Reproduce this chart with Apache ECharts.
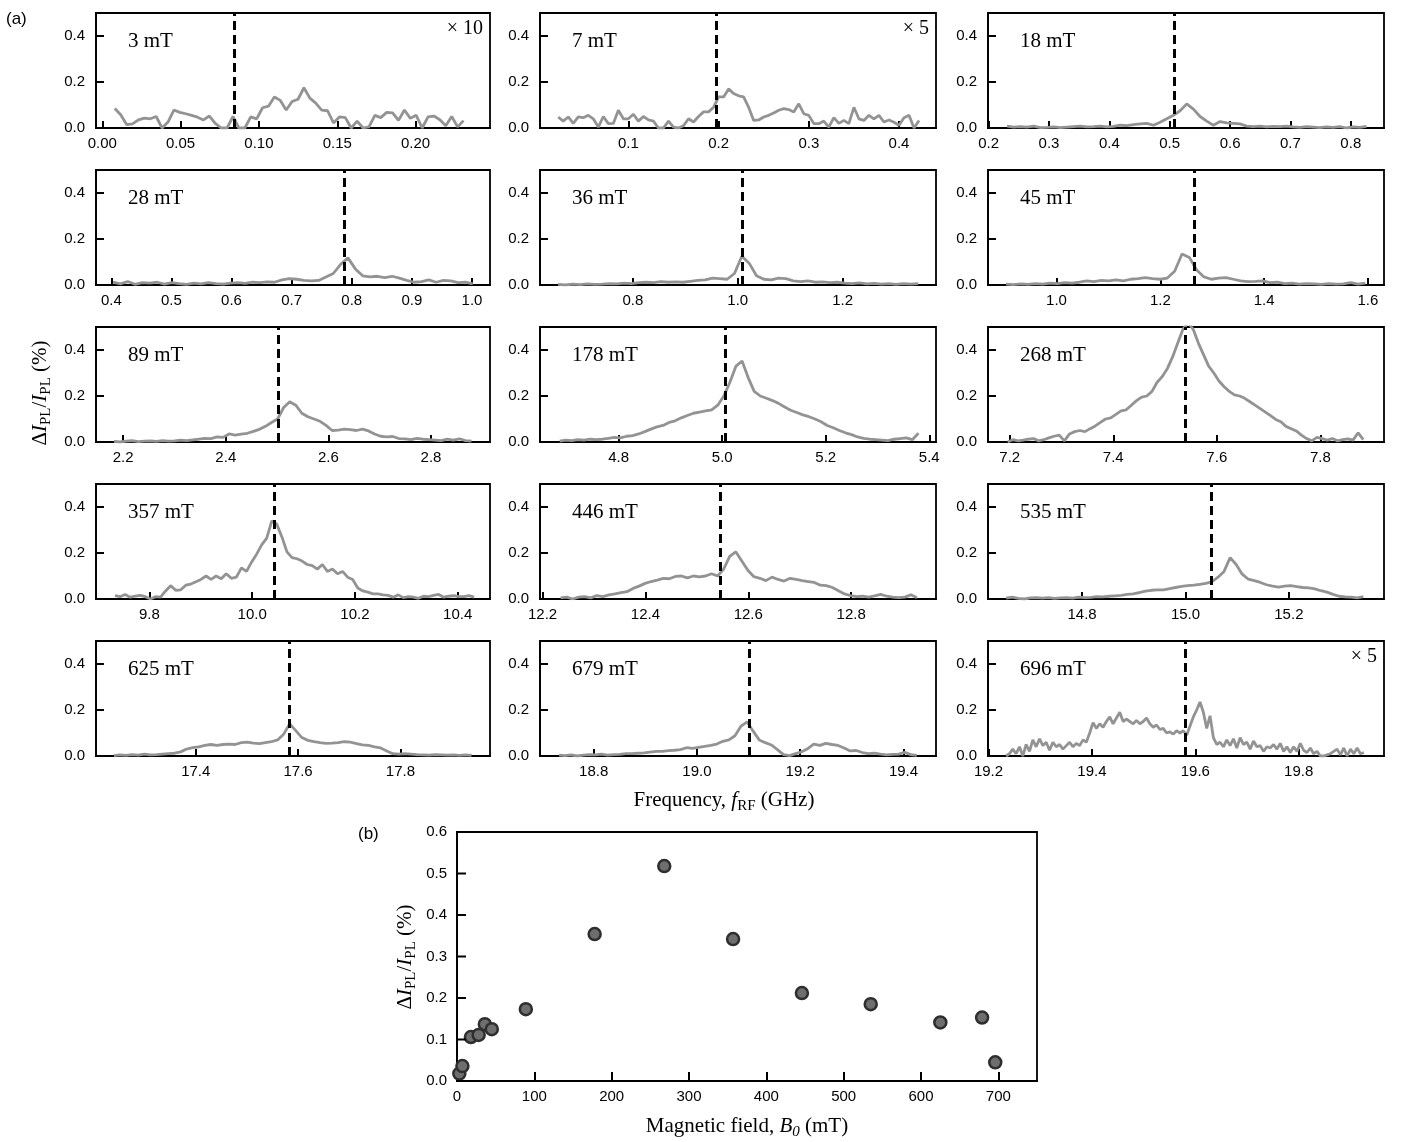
<!DOCTYPE html>
<html>
<head>
<meta charset="utf-8">
<title>PL change vs RF frequency</title>
<script src="https://cdn.jsdelivr.net/npm/echarts@6/dist/echarts.min.js"></script>
<style>
  html, body { margin: 0; padding: 0; background: #fff; }
  #main { width: 1418px; height: 1142px; }
</style>
</head>
<body>
<div id="main"></div>
<script>
// ---- panel (a): one frequency sweep per field ----
var fieldLabels = ['3 mT', '7 mT', '18 mT', '28 mT', '36 mT', '45 mT', '89 mT', '178 mT', '268 mT',
                   '357 mT', '446 mT', '535 mT', '625 mT', '679 mT', '696 mT'];
var scaleNotes = ['× 10', '× 5', '', '', '', '', '', '', '', '', '', '', '', '', '× 5'];

// sweep range of each trace (GHz)
var sweepStart = [0.008, 0.0222, 0.2305, 0.4028, 0.6575, 0.9027, 2.182, 4.686, 7.196,
                  9.733, 12.235, 14.653, 17.240, 18.733, 19.234];
var sweepEnd = [0.2306, 0.4222, 0.826, 1.0014, 1.344, 1.595, 2.879, 5.379, 7.883,
                10.432, 12.928, 15.344, 17.939, 19.426, 19.926];
// visible x range of each panel
var axisMin = [-0.004, 0.002, 0.199, 0.3745, 0.623, 0.868, 2.147, 4.648, 7.158,
               9.696, 12.195, 14.618, 17.205, 18.696, 19.199];
var axisMax = [0.2475, 0.441, 0.855, 1.030, 1.378, 1.631, 2.915, 5.413, 7.923,
               10.463, 12.965, 15.384, 17.975, 19.463, 19.965];
// dashed marker (expected resonance)
var resonance = [0.0844, 0.1974, 0.5075, 0.788, 1.009, 1.266, 2.503, 5.0065, 7.539,
                 10.043, 12.546, 15.049, 17.583, 19.101, 19.581];
var tickValues = [
  [0, 0.05, 0.10, 0.15, 0.20],
  [0.1, 0.2, 0.3, 0.4],
  [0.2, 0.3, 0.4, 0.5, 0.6, 0.7, 0.8],
  [0.4, 0.5, 0.6, 0.7, 0.8, 0.9, 1.0],
  [0.8, 1.0, 1.2],
  [1.0, 1.2, 1.4, 1.6],
  [2.2, 2.4, 2.6, 2.8],
  [4.8, 5.0, 5.2, 5.4],
  [7.2, 7.4, 7.6, 7.8],
  [9.8, 10.0, 10.2, 10.4],
  [12.2, 12.4, 12.6, 12.8],
  [14.8, 15.0, 15.2],
  [17.4, 17.6, 17.8],
  [18.8, 19.0, 19.2, 19.4],
  [19.2, 19.4, 19.6, 19.8]
];
var tickDecimals = [2, 1, 1, 1, 1, 1, 1, 1, 1, 1, 1, 1, 1, 1, 1];
var yTicks = [0, 0.2, 0.4];

var sig3mT = [0.085, 0.058, 0.015, 0.018, 0.035, 0.043, 0.04, 0.05, 0.0, 0.026,
  0.078, 0.068, 0.062, 0.055, 0.047, 0.035, 0.052, 0.02, 0.0, 0.0,
  0.05, 0.0, 0.0, 0.048, 0.04, 0.088, 0.095, 0.135, 0.12, 0.078,
  0.115, 0.125, 0.175, 0.13, 0.108, 0.078, 0.075, 0.022, 0.048, 0.045,
  0.0, 0.03, 0.0, 0.005, 0.055, 0.045, 0.068, 0.066, 0.033, 0.078,
  0.042, 0.055, 0.0, 0.048, 0.052, 0.036, 0.01, 0.05, 0.005, 0.032];
var sig7mT = [0.048, 0.03, 0.048, 0.02, 0.048, 0.045, 0.055, 0.04, 0.004, 0.05,
  0.019, 0.02, 0.077, 0.04, 0.04, 0.06, 0.03, 0.05, 0.035, 0.03,
  0.0, 0.0, 0.03, 0.004, 0.0, 0.01, 0.04, 0.026, 0.05, 0.07,
  0.07, 0.09, 0.135, 0.135, 0.17, 0.15, 0.14, 0.135, 0.09, 0.033,
  0.035, 0.048, 0.055, 0.065, 0.077, 0.084, 0.08, 0.07, 0.105, 0.062,
  0.055, 0.019, 0.019, 0.03, 0.004, 0.045, 0.02, 0.033, 0.019, 0.09,
  0.04, 0.033, 0.055, 0.04, 0.055, 0.026, 0.035, 0.025, 0.012, 0.045,
  0.055, 0.0, 0.033];
var sig18mT = [0.008, 0.004, 0.006, 0.004, 0.008, 0.002, 0.003, 0.005, 0.002, 0.004,
  0.006, 0.008, 0.005, 0.006, 0.008, 0.005, 0.007, 0.012, 0.01, 0.015,
  0.018, 0.02, 0.012, 0.025, 0.04, 0.055, 0.075, 0.105, 0.082, 0.05,
  0.03, 0.012, 0.028, 0.022, 0.02, 0.018, 0.008, 0.006, 0.008, 0.005,
  0.007, 0.006, 0.008, 0.005, 0.003, 0.006, 0.004, 0.002, 0.005, 0.003,
  0.006, 0.0, 0.005, 0.003, 0.007];
var sig28mT = [0.012, 0.005, 0.015, 0.003, 0.01, 0.008, 0.012, 0.004, 0.01, 0.006,
  0.003, 0.008, 0.005, 0.01, 0.006, 0.004, 0.008, 0.01, 0.007, 0.012,
  0.01, 0.014, 0.012, 0.022, 0.028, 0.025, 0.02, 0.018, 0.02, 0.035,
  0.05, 0.09, 0.118, 0.07, 0.04, 0.035, 0.038, 0.032, 0.038, 0.03,
  0.02, 0.012, 0.015, 0.022, 0.012, 0.02, 0.018, 0.01, 0.012, 0.005];
var sig36mT = [0.003, 0.0, 0.004, 0.002, 0.005, 0.003, 0.004, 0.006, 0.005, 0.008,
  0.006, 0.01, 0.012, 0.01, 0.015, 0.012, 0.014, 0.012, 0.016, 0.02,
  0.022, 0.03, 0.028, 0.025, 0.05, 0.125, 0.095, 0.04, 0.025, 0.022,
  0.03, 0.028, 0.018, 0.015, 0.018, 0.012, 0.014, 0.01, 0.012, 0.008,
  0.006, 0.009, 0.005, 0.007, 0.004, 0.006, 0.003, 0.006, 0.004, 0.006];
var sig45mT = [0.004, 0.002, 0.005, 0.003, 0.006, 0.004, 0.008, 0.006, 0.01, 0.008,
  0.012, 0.018, 0.015, 0.02, 0.018, 0.022, 0.018, 0.025, 0.028, 0.032,
  0.028, 0.025, 0.03, 0.06, 0.135, 0.12, 0.065, 0.035, 0.025, 0.03,
  0.032, 0.025, 0.018, 0.015, 0.016, 0.018, 0.01, 0.012, 0.006, 0.008,
  0.004, 0.006, 0.005, 0.003, 0.006, 0.004, 0.005, 0.01, 0.004, 0.008];
var sig89mT = [0.003, 0.0, 0.004, 0.006, 0.002, 0.004, 0.005, 0.003, 0.006, 0.004,
  0.005, 0.008, 0.006, 0.009, 0.012, 0.016, 0.015, 0.022, 0.02, 0.035,
  0.03, 0.034, 0.038, 0.046, 0.055, 0.068, 0.085, 0.1, 0.15, 0.175,
  0.16, 0.125, 0.11, 0.1, 0.09, 0.072, 0.05, 0.052, 0.056, 0.054,
  0.05, 0.056, 0.048, 0.035, 0.025, 0.022, 0.024, 0.015, 0.014, 0.01,
  0.016, 0.012, 0.01, 0.008, 0.006, 0.012, 0.008, 0.014, 0.006, 0.004];
var sig178mT = [0.004, 0.008, 0.006, 0.01, 0.008, 0.012, 0.01, 0.012, 0.016, 0.02,
  0.018, 0.025, 0.028, 0.035, 0.045, 0.056, 0.066, 0.072, 0.085, 0.092,
  0.105, 0.115, 0.125, 0.13, 0.135, 0.14, 0.16, 0.2, 0.26, 0.33,
  0.352, 0.28, 0.22, 0.2, 0.19, 0.18, 0.168, 0.152, 0.138, 0.128,
  0.118, 0.11, 0.1, 0.088, 0.072, 0.062, 0.05, 0.04, 0.032, 0.022,
  0.016, 0.012, 0.01, 0.008, 0.006, 0.012, 0.015, 0.018, 0.01, 0.038];
var sig268mT = [0.0, 0.01, 0.005, 0.008, 0.012, 0.015, 0.005, 0.01, 0.018, 0.025,
  0.03, 0.005, 0.035, 0.045, 0.05, 0.045, 0.058, 0.07, 0.085, 0.1,
  0.105, 0.12, 0.135, 0.14, 0.16, 0.18, 0.195, 0.2, 0.22, 0.26,
  0.285, 0.32, 0.37, 0.43, 0.49, 0.52, 0.49, 0.43, 0.38, 0.33,
  0.3, 0.265, 0.24, 0.22, 0.205, 0.2, 0.19, 0.175, 0.16, 0.145,
  0.13, 0.115, 0.098, 0.088, 0.068, 0.058, 0.048, 0.03, 0.015, 0.005,
  0.02, 0.015, 0.008, 0.015, 0.005, 0.01, 0.014, 0.008, 0.04, 0.01];
var sig357mT = [0.015, 0.01, 0.02, 0.008, 0.012, 0.016, 0.01, 0.0, 0.01, 0.008,
  0.035, 0.058, 0.038, 0.04, 0.06, 0.065, 0.075, 0.085, 0.1, 0.085,
  0.1, 0.088, 0.11, 0.09, 0.095, 0.135, 0.12, 0.16, 0.195, 0.235,
  0.265, 0.34, 0.325, 0.27, 0.205, 0.18, 0.175, 0.165, 0.15, 0.145,
  0.13, 0.15, 0.12, 0.13, 0.11, 0.12, 0.095, 0.085, 0.048, 0.035,
  0.03, 0.022, 0.022, 0.018, 0.016, 0.008, 0.018, 0.006, 0.01, 0.008,
  0.003, 0.012, 0.01, 0.016, 0.02, 0.008, 0.012, 0.015, 0.01, 0.01,
  0.015, 0.008];
var sig446mT = [0.005, 0.008, 0.0, 0.008, 0.01, 0.005, 0.015, 0.01, 0.018, 0.022,
  0.028, 0.032, 0.046, 0.056, 0.068, 0.076, 0.082, 0.09, 0.088, 0.098,
  0.1, 0.092, 0.1, 0.096, 0.1, 0.11, 0.1, 0.13, 0.185, 0.205,
  0.165, 0.125, 0.097, 0.09, 0.08, 0.095, 0.085, 0.078, 0.09, 0.085,
  0.08, 0.076, 0.072, 0.06, 0.058, 0.05, 0.036, 0.022, 0.015, 0.01,
  0.012, 0.008, 0.014, 0.02, 0.012, 0.008, 0.006, 0.008, 0.018, 0.005];
var sig535mT = [0.004, 0.008, 0.003, 0.0, 0.005, 0.006, 0.004, 0.006, 0.003, 0.005,
  0.006, 0.004, 0.008, 0.006, 0.007, 0.01, 0.009, 0.012, 0.014, 0.016,
  0.02, 0.022, 0.028, 0.034, 0.038, 0.04, 0.04, 0.045, 0.05, 0.055,
  0.058, 0.06, 0.064, 0.068, 0.075, 0.095, 0.12, 0.18, 0.15, 0.108,
  0.086, 0.08, 0.072, 0.062, 0.056, 0.052, 0.056, 0.058, 0.054, 0.05,
  0.048, 0.044, 0.036, 0.03, 0.02, 0.012, 0.009, 0.008, 0.005, 0.01];
var sig625mT = [0.002, 0.005, 0.003, 0.006, 0.004, 0.008, 0.005, 0.006, 0.008, 0.01,
  0.012, 0.018, 0.03, 0.036, 0.04, 0.046, 0.05, 0.046, 0.05, 0.052,
  0.05, 0.058, 0.06, 0.056, 0.054, 0.058, 0.062, 0.07, 0.095, 0.14,
  0.11, 0.08, 0.068, 0.062, 0.058, 0.055, 0.056, 0.058, 0.062, 0.06,
  0.054, 0.048, 0.046, 0.04, 0.035, 0.022, 0.01, 0.008, 0.01, 0.008,
  0.006, 0.005, 0.004, 0.006, 0.005, 0.004, 0.005, 0.003, 0.005, 0.003];
var sig679mT = [0.004, 0.002, 0.005, 0.0, 0.004, 0.006, 0.005, 0.008, 0.004, 0.006,
  0.007, 0.01, 0.01, 0.012, 0.014, 0.017, 0.02, 0.02, 0.023, 0.025,
  0.028, 0.036, 0.033, 0.038, 0.042, 0.046, 0.052, 0.064, 0.07, 0.088,
  0.13, 0.148, 0.108, 0.07, 0.058, 0.048, 0.028, 0.006, 0.002, 0.01,
  0.018, 0.032, 0.052, 0.046, 0.055, 0.05, 0.046, 0.035, 0.022, 0.024,
  0.015, 0.01, 0.012, 0.008, 0.005, 0.007, 0.008, 0.016, 0.006, 0.003];
var sig696mT = [0.0, 0.01, 0.03, 0.01, 0.04, 0.0, 0.05, 0.02, 0.07, 0.04,
  0.075, 0.045, 0.06, 0.025, 0.06, 0.04, 0.05, 0.03, 0.045, 0.06,
  0.04, 0.055, 0.045, 0.07, 0.06, 0.1, 0.145, 0.12, 0.14, 0.125,
  0.15, 0.17, 0.14, 0.165, 0.19, 0.15, 0.16, 0.15, 0.14, 0.155,
  0.14, 0.15, 0.165, 0.14, 0.125, 0.135, 0.115, 0.12, 0.1, 0.105,
  0.095, 0.11, 0.1, 0.11, 0.09, 0.13, 0.17, 0.2, 0.235, 0.19,
  0.12, 0.175, 0.08, 0.05, 0.06, 0.04, 0.07, 0.045, 0.075, 0.035,
  0.08, 0.05, 0.06, 0.03, 0.065, 0.04, 0.045, 0.02, 0.04, 0.035,
  0.05, 0.03, 0.055, 0.02, 0.04, 0.015, 0.04, 0.02, 0.055, 0.025,
  0.015, 0.035, 0.01, 0.02, 0.0, 0.0, 0.005, 0.01, 0.02, 0.03,
  0.005, 0.035, 0.0, 0.03, 0.01, 0.035, 0.01, 0.015];

var traces = [sig3mT, sig7mT, sig18mT, sig28mT, sig36mT, sig45mT, sig89mT, sig178mT, sig268mT,
              sig357mT, sig446mT, sig535mT, sig625mT, sig679mT, sig696mT];

// ---- panel (b): peak amplitude vs field ----
var fieldB = [3, 7, 18, 28, 36, 45, 89, 178, 268, 357, 446, 535, 625, 679, 696];
var peakAmp = [0.018, 0.036, 0.106, 0.111, 0.137, 0.125, 0.173, 0.354, 0.518, 0.342,
               0.212, 0.185, 0.141, 0.153, 0.045];
var fieldTicks = [0, 100, 200, 300, 400, 500, 600, 700];
var ampTicks = [0, 0.1, 0.2, 0.3, 0.4, 0.5, 0.6];

// layout of the 5x3 small panels
var colLeft = [96, 540, 988];
var colWidth = [394, 396, 396];
var rowTop = [13, 170, 327, 484, 641];
var rowHeight = 115;

var SANS = 'Liberation Sans, Arial, sans-serif';
var SERIF = 'Liberation Serif, Times New Roman, serif';
var TRACE_COLOR = '#939393';

function fmt(dec) {
  return function(v) { return Number(v).toFixed(dec); };
}

var labelRich = {
  n: { fontFamily: SERIF, fontSize: 21, lineHeight: 28, fill: '#000', color: '#000' },
  i: { fontFamily: SERIF, fontSize: 21, lineHeight: 28, fontStyle: 'italic', fill: '#000', color: '#000' },
  s: { fontFamily: SERIF, fontSize: 15, lineHeight: 15, verticalAlign: 'bottom', fill: '#000', color: '#000' },
  si: { fontFamily: SERIF, fontSize: 15, lineHeight: 15, fontStyle: 'italic', verticalAlign: 'bottom', fill: '#000', color: '#000' }
};

function textEl(x, y, str, opts) {
  opts = opts || {};
  return {
    type: 'text', x: x, y: y, rotation: opts.rotation || 0, silent: true,
    style: {
      text: str,
      rich: opts.rich,
      fill: '#000',
      fontFamily: opts.family || SERIF,
      fontSize: opts.size || 21,
      align: opts.align || 'left', textAlign: opts.align || 'left',
      verticalAlign: 'middle', textVerticalAlign: 'middle'
    }
  };
}

function frameLine() {
  return { show: true, onZero: false, lineStyle: { color: '#000', width: 1.8 } };
}
function innerTicks(values, len) {
  return { show: true, inside: true, length: len, customValues: values,
           lineStyle: { color: '#000', width: 2 } };
}

// left-edge inner ticks, placed through the axes' own scales
function leftTickSeries(idx, xLeft, values, len) {
  return {
    type: 'custom', xAxisIndex: idx, yAxisIndex: idx, silent: true, z: 10, clip: false,
    data: values.map(function(v) { return [xLeft, v]; }),
    renderItem: function(params, api) {
      var p = api.coord([api.value(0), api.value(1)]);
      return {
        type: 'line',
        shape: { x1: p[0], y1: p[1], x2: p[0] + len, y2: p[1] },
        style: { stroke: '#000', lineWidth: 2 }
      };
    }
  };
}

var grids = [], xAxes = [], yAxes = [], series = [], texts = [];

for (var i = 0; i < traces.length; i++) {
  var r = Math.floor(i / 3), c = i % 3;
  grids.push({
    left: colLeft[c], top: rowTop[r], width: colWidth[c], height: rowHeight,
    show: true, borderColor: '#000', borderWidth: 1.8, backgroundColor: 'transparent',
    outerBoundsMode: 'none', containLabel: false
  });
  xAxes.push({
    gridIndex: i, type: 'value', min: axisMin[i], max: axisMax[i],
    axisLine: frameLine(),
    splitLine: { show: false },
    axisTick: innerTicks(tickValues[i], 7),
    axisLabel: { show: true, customValues: tickValues[i], formatter: fmt(tickDecimals[i]),
                 color: '#000', fontFamily: SANS, fontSize: 15, margin: 8 }
  });
  yAxes.push({
    gridIndex: i, type: 'value', min: 0, max: 0.5,
    axisLine: frameLine(),
    splitLine: { show: false },
    axisTick: { show: false },
    axisLabel: { show: true, customValues: yTicks, formatter: fmt(1),
                 color: '#000', fontFamily: SANS, fontSize: 15, margin: 11 }
  });

  var ys = traces[i];
  var step = (sweepEnd[i] - sweepStart[i]) / (ys.length - 1);
  var pts = [];
  for (var k = 0; k < ys.length; k++) {
    pts.push([sweepStart[i] + k * step, ys[k]]);
  }
  series.push({
    type: 'line', xAxisIndex: i, yAxisIndex: i, data: pts,
    showSymbol: false, symbol: 'none', clip: true, silent: true,
    lineStyle: { color: TRACE_COLOR, width: 2.8 },
    markLine: {
      silent: true, symbol: ['none', 'none'], label: { show: false },
      precision: 6,
      lineStyle: { color: '#000', type: [9, 5], width: 3 },
      emphasis: { disabled: true },
      data: [{ xAxis: resonance[i] }]
    }
  });
  series.push(leftTickSeries(i, axisMin[i], yTicks, 8));

  texts.push(textEl(colLeft[c] + 32, rowTop[r] + 28, fieldLabels[i], { size: 21 }));
  if (scaleNotes[i]) {
    texts.push(textEl(colLeft[c] + colWidth[c] - 7, rowTop[r] + 16, scaleNotes[i],
                      { size: 20, align: 'right' }));
  }
}

// panel (b)
var bIdx = traces.length;
grids.push({
  left: 457, top: 832, width: 580, height: 249,
  show: true, borderColor: '#000', borderWidth: 1.8, backgroundColor: 'transparent',
  outerBoundsMode: 'none', containLabel: false
});
xAxes.push({
  gridIndex: bIdx, type: 'value', min: 0, max: 750,
  axisLine: frameLine(), splitLine: { show: false },
  axisTick: innerTicks(fieldTicks, 9),
  axisLabel: { show: true, customValues: fieldTicks, color: '#000',
               fontFamily: SANS, fontSize: 15, margin: 8 }
});
yAxes.push({
  gridIndex: bIdx, type: 'value', min: 0, max: 0.6,
  axisLine: frameLine(), splitLine: { show: false },
  axisTick: { show: false },
  axisLabel: { show: true, customValues: ampTicks, formatter: fmt(1), color: '#000',
               fontFamily: SANS, fontSize: 15, margin: 10 }
});
series.push({
  type: 'scatter', xAxisIndex: bIdx, yAxisIndex: bIdx, silent: true,
  symbol: 'circle', symbolSize: 12,
  itemStyle: { color: '#6e6e6e', borderColor: '#2e2e2e', borderWidth: 2.5, opacity: 1 },
  data: fieldB.map(function(b, k) { return [b, peakAmp[k]]; })
});
series.push(leftTickSeries(bIdx, 0, ampTicks, 9));

var yLabelStr = '{n|Δ}{i|I}{s|PL}{n|/}{i|I}{s|PL}{n| (%)}';
texts.push(textEl(40, 393, yLabelStr, { rich: labelRich, align: 'center', rotation: Math.PI / 2 }));
texts.push(textEl(724, 800, '{n|Frequency, }{i|f}{s|RF}{n| (GHz)}', { rich: labelRich, align: 'center' }));
texts.push(textEl(405, 957, yLabelStr, { rich: labelRich, align: 'center', rotation: Math.PI / 2 }));
texts.push(textEl(747, 1126, '{n|Magnetic field, }{i|B}{si|0}{n| (mT)}', { rich: labelRich, align: 'center' }));
texts.push(textEl(6, 19, '(a)', { family: SANS, size: 17 }));
texts.push(textEl(358, 834, '(b)', { family: SANS, size: 17 }));

var chart = echarts.init(document.getElementById('main'));
chart.setOption({
  animation: false,
  backgroundColor: '#fff',
  grid: grids,
  xAxis: xAxes,
  yAxis: yAxes,
  series: series,
  graphic: { elements: texts }
});
</script>
</body>
</html>
